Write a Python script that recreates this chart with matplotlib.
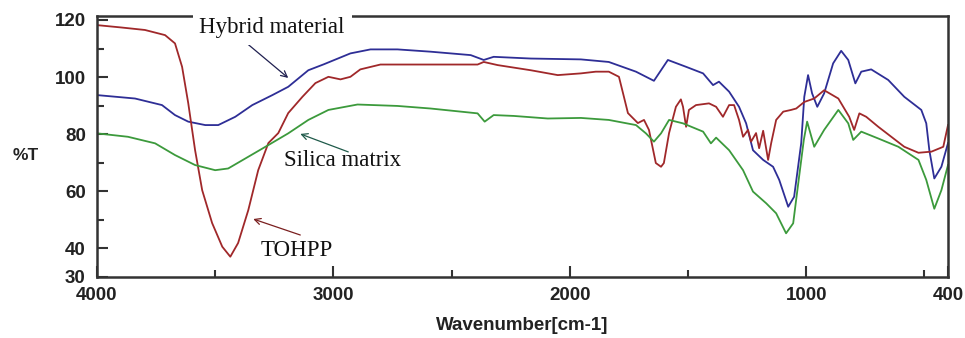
"""
FTIR spectra of TOHPP, silica matrix and hybrid material
"""
import matplotlib
matplotlib.use("Agg")
import matplotlib.pyplot as plt
from matplotlib.ticker import FixedLocator

# TOHPP (red)
tohpp_wn = [4000, 3900, 3797, 3712, 3670, 3640, 3614, 3585, 3555, 3513, 3470,
            3436, 3403, 3360, 3318, 3275, 3233, 3191, 3131, 3076, 3021, 2970,
            2928, 2886, 2801, 2589, 2390, 2364, 2305, 2165, 2051, 1953, 1890,
            1835, 1792, 1771, 1754, 1712, 1686, 1665, 1636, 1614, 1602, 1580,
            1551, 1530, 1521, 1508, 1496, 1466, 1411, 1381, 1352, 1326, 1305,
            1284, 1267, 1246, 1233, 1212, 1199, 1182, 1161, 1148, 1127, 1097,
            1064, 1042, 1008, 966, 924, 864, 818, 797, 775, 746, 695, 640,
            585, 525, 470, 420, 400]
tohpp_t = [118.2, 117.4, 116.5, 114.7, 111.8, 103.6, 90.9, 74.4, 60.4, 48.9,
           40.6, 37.1, 41.9, 53.4, 67.4, 76.9, 80.4, 87.4, 93.1, 97.9, 100.1,
           99.2, 100.1, 102.7, 104.4, 104.4, 104.4, 105.3, 104.2, 102.4, 100.7,
           101.3, 101.9, 101.9, 100.1, 93.1, 87.4, 83.9, 85.0, 81.5, 69.9,
           68.6, 69.9, 80.4, 89.6, 92.2, 89.6, 82.6, 88.5, 90.2, 90.8, 89.6,
           86.1, 90.2, 90.2, 85.0, 79.1, 81.5, 77.4, 80.4, 75.1, 81.2, 71.0,
           76.9, 85.0, 87.9, 88.5, 89.0, 91.3, 92.5, 95.4, 92.5, 86.1, 81.5,
           87.3, 86.1, 82.6, 79.1, 75.6, 73.5, 73.9, 75.6, 83.2]

# Hybrid material (blue)
hybrid_wn = [4000, 3839, 3725, 3670, 3614, 3542, 3487, 3415, 3343, 3258, 3191,
             3106, 3040, 2928, 2843, 2729, 2589, 2419, 2364, 2322, 2165, 1953,
             1835, 1720, 1644, 1623, 1585, 1508, 1436, 1394, 1369, 1326, 1284,
             1254, 1225, 1182, 1140, 1114, 1076, 1051, 1021, 1008, 992, 975,
             953, 924, 886, 852, 822, 792, 767, 725, 653, 585, 513, 492, 479,
             458, 428, 400]
hybrid_t = [93.7, 92.5, 90.2, 86.7, 84.4, 83.2, 83.2, 86.1, 90.2, 93.7, 96.6,
            102.4, 104.5, 108.3, 109.7, 109.7, 108.9, 107.7, 106.0, 107.1,
            106.5, 106.2, 105.3, 101.9, 98.7, 101.3, 106.0, 103.6, 101.3, 97.2,
            98.4, 94.9, 89.6, 83.8, 74.4, 71.0, 68.6, 64.0, 54.6, 58.1, 76.9,
            93.1, 100.7, 94.3, 89.6, 94.3, 104.8, 109.2, 106.0, 97.8, 101.9,
            102.7, 99.0, 93.1, 88.5, 83.8, 74.4, 64.5, 68.6, 76.9]

# Silica matrix (green)
silica_wn = [4000, 3869, 3754, 3670, 3585, 3500, 3445, 3360, 3275, 3191, 3106,
             3021, 2898, 2729, 2589, 2390, 2360, 2322, 2237, 2093, 1953, 1835,
             1720, 1678, 1644, 1614, 1580, 1521, 1436, 1403, 1381, 1326, 1267,
             1225, 1169, 1127, 1085, 1055, 1030, 1010, 996, 966, 924, 864, 822,
             801, 767, 695, 610, 525, 492, 458, 428, 400]
silica_t = [80.3, 79.1, 76.8, 72.7, 69.2, 67.4, 68.0, 72.1, 76.2, 80.3, 85.0,
            88.5, 90.4, 89.9, 89.0, 87.3, 84.4, 86.7, 86.4, 85.5, 85.7, 85.0,
            83.2, 80.3, 77.4, 80.3, 85.0, 83.8, 80.9, 76.8, 78.8, 74.4, 67.4,
            59.9, 55.8, 52.3, 45.3, 48.8, 65.1, 78.0, 84.4, 75.6, 81.5, 88.5,
            83.8, 78.0, 80.9, 78.5, 75.6, 71.0, 64.0, 53.9, 60.4, 69.2]

x_major = [4000, 3000, 2000, 1000, 400]
x_minor = [3500, 2500, 1500, 500]
y_major = [30, 40, 60, 80, 100, 120]
y_minor = [50, 70, 90, 110]

SERIF = "Liberation Serif"
SANS = "Liberation Sans"


def _label(ax, text, pos, tail, head, color, box=False):
    # text and its arrow are placed independently, like in the original figure
    kw = dict(fontfamily=SERIF, fontsize=16.5, ha="center", va="center",
              color="#111111", zorder=5)
    if box:
        kw["bbox"] = dict(boxstyle="square,pad=0.3", fc="white", ec="none")
    ax.text(pos[0], pos[1], text, clip_on=False, **kw)
    ax.annotate("", xy=head, xytext=tail,
                arrowprops=dict(arrowstyle="->", color=color, lw=0.9,
                                shrinkA=0, shrinkB=0, mutation_scale=11))


def main():
    fig = plt.figure(figsize=(9.65, 3.38), dpi=100)
    ax = fig.add_axes([0.1005, 0.1805, 0.8819, 0.7722])

    ax.plot(hybrid_wn, hybrid_t, color="#2e2e96", lw=1.3)
    ax.plot(tohpp_wn, tohpp_t, color="#a0282a", lw=1.3)
    ax.plot(silica_wn, silica_t, color="#3c9a3c", lw=1.3)

    ax.set_xlim(4000, 400)
    ax.set_ylim(30, 121.4)

    ax.xaxis.set_major_locator(FixedLocator(x_major))
    ax.xaxis.set_minor_locator(FixedLocator(x_minor))
    ax.yaxis.set_major_locator(FixedLocator(y_major))
    ax.yaxis.set_minor_locator(FixedLocator(y_minor))
    ax.tick_params(which="both", direction="in", width=1.5, color="#333333")
    ax.tick_params(which="major", length=8)
    ax.tick_params(which="minor", length=5)
    ax.tick_params(axis="x", pad=7)
    ax.tick_params(axis="y", pad=8)
    for lab in ax.get_xticklabels() + ax.get_yticklabels():
        lab.set_fontfamily(SANS)
        lab.set_fontweight("bold")
        lab.set_fontsize(13.5)
        lab.set_color("#222222")

    for sp in ax.spines.values():
        sp.set_linewidth(1.8)
        sp.set_color("#333333")

    fig.text(0.027, 0.54, "%T", fontfamily=SANS, fontweight="bold",
             fontsize=12.5, ha="center", va="center", color="#222222")
    fig.text(0.541, 0.038, "Wavenumber[cm-1]", fontfamily=SANS,
             fontweight="bold", fontsize=13.5, ha="center", va="center",
             color="#222222")

    _label(ax, "Hybrid material", (3259, 117.3), (3373, 112.3), (3191, 99.7),
           "#202050", box=True)
    _label(ax, "Silica matrix", (2962, 70.8), (2937, 73.8), (3140, 80.1),
           "#1f5a4a")
    _label(ax, "TOHPP", (3153, 39.3), (3140, 44.7), (3339, 50.3), "#7a1f1f")

    fig.savefig("out.png", dpi=100)


if __name__ == "__main__":
    main()
